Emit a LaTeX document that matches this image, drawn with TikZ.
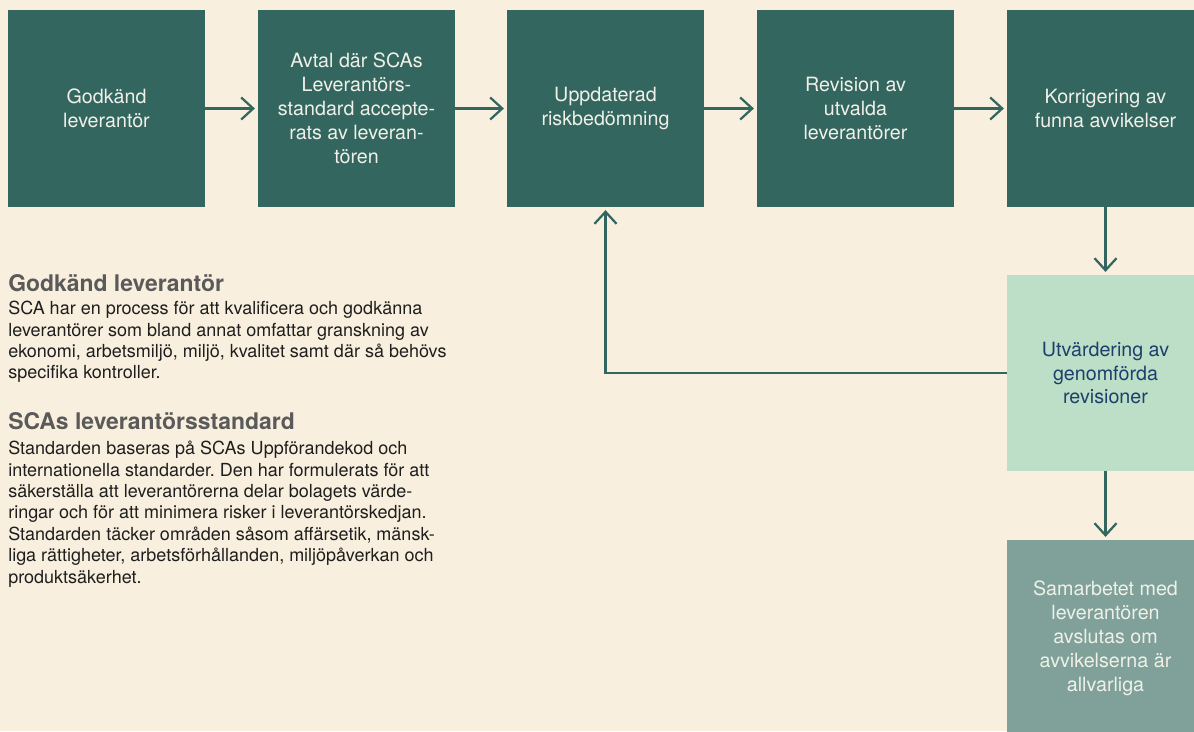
\documentclass[tikz,border=0pt]{standalone}
\usepackage{fontspec}
\setmainfont{TeX Gyre Heros}
\usetikzlibrary{arrows.meta}
\frenchspacing

\definecolor{scabg}{RGB}{249,239,222}
\definecolor{scateal}{RGB}{51,102,95}
\definecolor{scamint}{RGB}{190,223,199}
\definecolor{scasage}{RGB}{127,161,153}
\definecolor{scalight}{RGB}{240,240,232}
\definecolor{scanavy}{RGB}{28,63,108}
\definecolor{scahead}{RGB}{90,90,90}
\definecolor{scatext}{RGB}{30,30,30}

\tikzset{
	procbox/.style={rectangle, fill=scateal, text=scalight, minimum width=4.925cm, minimum height=4.925cm, inner sep=0pt, align=center, font=\fontsize{14}{17}\selectfont},
	flow/.style={->, draw=scateal, line width=1.6pt, shorten >=2pt},
	headtext/.style={anchor=base west, inner sep=0pt, text=scahead, font=\fontsize{16.3}{19}\selectfont\bfseries},
	bodytext/.style={anchor=north west, inner sep=0pt, align=left, text=scatext, font=\fontsize{12.8}{15.2}\selectfont},
}

\begin{document}
\begin{tikzpicture}[x=0.025cm, y=-0.025cm, >={Straight Barb[length=3mm, width=5.5mm]}]
	\path[use as bounding box, fill=scabg] (0,0) rectangle (1194,731);
	\clip (0,0) rectangle (1194,731);
	% process row
	\node[procbox] (b1) at (106.5,108.5) {Godkänd\\leverantör};
	\node[procbox] (b2) at (356.5,108.5) {Avtal där SCAs\\Leverantörs-\\standard accepte-\\rats av leveran-\\tören};
	\node[procbox] (b3) at (605.5,108.5) {Uppdaterad\\riskbedömning};
	\node[procbox] (b4) at (855.5,108.5) {Revision av\\utvalda\\leverantörer};
	\node[procbox] (b5) at (1105.5,108.5) {Korrigering av\\funna avvikelser};
	\node[procbox, fill=scamint, text=scanavy, minimum height=4.9cm] (b6) at (1105.5,373) {Utvärdering av\\genomförda\\revisioner};
	\node[procbox, fill=scasage] (b7) at (1105.5,638.5) {Samarbetet med\\leverantören\\avslutas om\\avvikelserna är\\allvarliga};
	\draw[flow] (b1) -- (b2);
	\draw[flow] (b2) -- (b3);
	\draw[flow] (b3) -- (b4);
	\draw[flow] (b4) -- (b5);
	\draw[flow] (b5) -- (b6);
	\draw[flow] (b6) -- (b7);
	\draw[flow] (b6.west) -| (b3.south);
	% explanations
	\node[headtext] (head1) at (8,291) {Godkänd leverantör};
	\node[bodytext] (text1) at (8,301) {SCA har en process för att kvalificera och godkänna\\leverantörer som bland annat omfattar granskning av\\ekonomi, arbetsmiljö, miljö, kvalitet samt där så behövs\\specifika kontroller.};
	\node[headtext] (head2) at (8,429) {SCAs leverantörsstandard};
	\node[bodytext] (text2) at (8,441) {Standarden baseras på SCAs Uppförandekod och\\internationella standarder. Den har formulerats för att\\säkerställa att leverantörerna delar bolagets värde-\\ringar och för att minimera risker i leverantörskedjan.\\Standarden täcker områden såsom affärsetik, mänsk-\\liga rättigheter, arbetsförhållanden, miljöpåverkan och\\produktsäkerhet.};
\end{tikzpicture}
\end{document}
